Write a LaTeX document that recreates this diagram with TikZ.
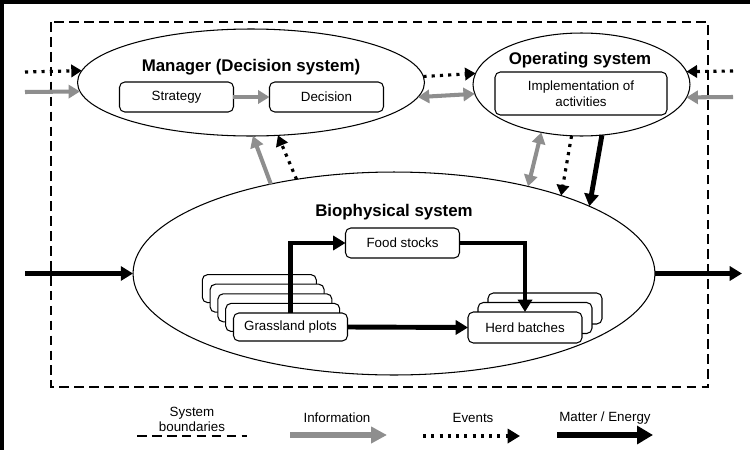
\documentclass[tikz,border=0pt]{standalone}
\usepackage{fontspec}
\setmainfont{Liberation Sans}
\usetikzlibrary{arrows.meta, shapes.geometric}
\definecolor{cgray}{HTML}{8E8E8E}
\tikzset{
  every picture/.style={line width=0.6pt},
  sysell/.style={draw, ellipse, inner sep=0pt, outer sep=0pt},
  cbox/.style={draw, fill=white, rounded corners=3pt, align=center, inner sep=1pt, outer sep=0pt, minimum width=2.28cm, minimum height=0.6cm, font=\fontsize{7.6}{8.8}\selectfont},
  head/.style={font=\bfseries\fontsize{9.6}{11}\selectfont},
  lab/.style={align=center, font=\fontsize{7.6}{8.8}\selectfont},
  info/.style={draw=cgray, line width=2.3pt, -{Triangle[length=6.5pt, width=7.5pt]}},
  infoboth/.style={info, {Triangle[length=6.5pt, width=7.5pt]}-{Triangle[length=6.5pt, width=7.5pt]}},
  event/.style={line width=1.8pt, dash pattern=on 1.8pt off 2.9pt, -{Triangle[length=6pt, width=7pt]}},
  matter/.style={line width=2.8pt, -{Triangle[length=7pt, width=8pt]}},
  bound/.style={line width=1.5pt, dash pattern=on 5.5pt off 3pt},
}

\begin{document}
\begin{tikzpicture}[x=0.02cm, y=-0.02cm]
  % frame and system boundaries
  \fill[black] (0,0) rectangle (750,450);
  \fill[white] (4,4) rectangle (750,450);
  \draw[bound] (51,22) rectangle (708,387);
  % manager
  \node[sysell, minimum width=6.94cm, minimum height=2.14cm] (mgr) at (251,82.5) {};
  \node[head] (mgrT) at (251,67) {Manager (Decision system)};
  \node[cbox] (strat) at (176.5,97) {Strategy};
  \node[cbox] (dec) at (326.5,97) {Decision};
  \draw[info] (strat) -- (dec);
  % operating system
  \node[sysell, minimum width=4.34cm, minimum height=2.06cm] (ops) at (581.5,84.5) {};
  \node[head] (opsT) at (580,60) {Operating system};
  \node[cbox, minimum width=3.44cm, minimum height=0.86cm] (impl) at (581,93.5) {Implementation of\\activities};
  % biophysical system
  \node[sysell, minimum width=10.44cm, minimum height=4.06cm] (bio) at (394,273.5) {};
  \node[head] (bioT) at (394,212) {Biophysical system};
  \node[cbox] (food) at (402.5,243) {Food stocks};
  \foreach \k in {4,...,1}
    \node[cbox, minimum height=0.56cm] (gr\k) at (290.5-7.8*\k, 327-9.6*\k) {};
  \node[cbox, minimum height=0.56cm] (grass) at (290.5,327) {Grassland plots};
  \foreach \k in {2,1}
    \node[cbox, minimum height=0.62cm] (hb\k) at (525+10*\k, 327.5-9.5*\k) {};
  \node[cbox, minimum height=0.62cm] (herd) at (525,327.5) {Herd batches};
  \draw[matter] (grass.north) |- (food.west);
  \draw[matter] (food.east) -| (herd.north);
  \draw[matter] (grass.east) -- (herd.west);
  % flows across the boundary
  \coordinate (inEv) at (25,72);
  \coordinate (inInf) at (25,92);
  \coordinate (outEv) at (733,71);
  \coordinate (outInf) at (733,97);
  \coordinate (inMat) at (25,273.5);
  \coordinate (outMat) at (742,273.5);
  \draw[event] (inEv) -- (mgr.176.5);
  \draw[info] (inInf) -- (mgr.183.2);
  \draw[event] (outEv) -- (ops.7.35);
  \draw[info] (outInf) -- (ops.353.2);
  \draw[matter] (inMat) -- (bio.west);
  \draw[matter] (bio.east) -- (outMat);
  % flows between systems
  \draw[event] (mgr.2.5) -- (ops.174.9);
  \draw[infoboth] (mgr.355.8) -- (ops.185.6);
  \draw[info] (bio.144.8) -- (mgr.272.1);
  \draw[event] (bio.136.5) -- (mgr.297);
  \draw[infoboth] (bio.33.3) -- (ops.230.5);
  \draw[event] (ops.259.5) -- (bio.25.9);
  \draw[matter] (ops.292) -- (bio.19.5);
  % legend
  \node[lab] (legB) at (192,419.5) {System\\boundaries};
  \node[lab] (legI) at (337,418) {Information};
  \node[lab] (legE) at (473,418) {Events};
  \node[lab] (legM) at (605,418) {Matter / Energy};
  \coordinate (bA) at (137,436); \coordinate (bB) at (247,436);
  \coordinate (iA) at (290,435); \coordinate (iB) at (387,435);
  \coordinate (eA) at (423,436); \coordinate (eB) at (520,436);
  \coordinate (mA) at (557,435); \coordinate (mB) at (653,435);
  \draw[bound] (bA) -- (bB);
  \draw[info, line width=3pt, -{Triangle[length=9pt, width=9pt]}] (iA) -- (iB);
  \draw[event, -{Triangle[length=7pt, width=8pt]}] (eA) -- (eB);
  \draw[matter, line width=3.2pt, -{Triangle[length=9pt, width=10pt]}] (mA) -- (mB);
\end{tikzpicture}
\end{document}
